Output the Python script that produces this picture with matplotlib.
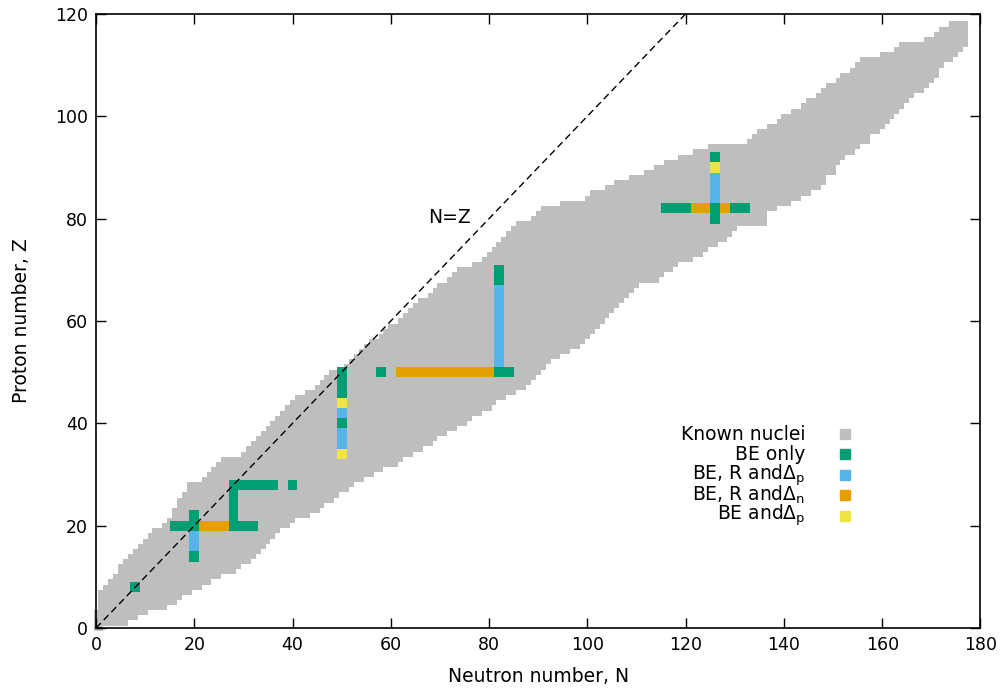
import matplotlib
matplotlib.use("Agg")
import matplotlib.pyplot as plt
import numpy as np

# known nuclei: for each Z (0..118) the lightest and heaviest N
z_known = list(range(0, 119))
n_min = [0, 0, 0, 0, 1, 1, 1, 1, 2, 3, 4, 5, 5, 6, 7, 8, 9, 10, 11, 12,
         14, 15, 16, 16, 17, 17, 18, 19, 19, 22, 23, 24, 25, 26, 30, 31, 32, 33, 34, 35,
         36, 37, 38, 39, 40, 41, 43, 45, 46, 47, 48, 51, 52, 53, 54, 55, 56, 58, 59, 60,
         62, 63, 64, 65, 66, 68, 69, 70, 72, 73, 74, 77, 79, 80, 81, 82, 83, 84, 85, 86,
         89, 90, 91, 95, 100, 101, 104, 106, 109, 112, 114, 116, 119, 122, 125, 133, 134, 135, 137, 139,
         140, 142, 144, 145, 147, 148, 149, 151, 152, 154, 155, 156, 160, 163, 164, 169, 171, 172, 174]
n_max = [1, 6, 8, 10, 14, 16, 17, 19, 21, 23, 25, 28, 29, 31, 32, 33, 34, 35, 36, 37,
         39, 40, 43, 45, 46, 48, 49, 51, 52, 54, 56, 58, 61, 62, 64, 66, 68, 69, 71, 73,
         75, 76, 78, 80, 81, 83, 85, 87, 88, 89, 90, 91, 92, 94, 96, 98, 99, 100, 101, 102,
         103, 104, 105, 106, 107, 108, 109, 110, 114, 115, 117, 118, 121, 123, 124, 126, 128, 129, 130, 136,
         136, 136, 138, 141, 143, 145, 147, 148, 148, 150, 150, 151, 152, 154, 155, 157, 157, 159, 160, 161,
         162, 163, 164, 165, 166, 168, 169, 170, 171, 171, 172, 174, 175, 176, 177, 177, 177, 177, 177]

# BE only
be_N = [8, 16, 18, 20, 28, 30, 32, 20, 20, 28, 28, 28, 28, 30, 32, 34, 36, 40,
        50, 50, 50, 50, 58, 82, 84, 82, 82, 116, 118, 120, 126, 130, 132, 126, 126]
be_Z = [8, 20, 20, 20, 20, 20, 20, 22, 14, 22, 24, 26, 28, 28, 28, 28, 28, 28,
        50, 48, 46, 40, 50, 50, 50, 70, 68, 82, 82, 82, 82, 82, 82, 92, 80]
# BE, R and Delta_p
rp_N = [20, 20, 50, 50, 50, 82, 82, 82, 82, 82, 82, 82, 82, 126, 126, 126]
rp_Z = [18, 16, 42, 38, 36, 52, 54, 56, 58, 60, 62, 64, 66, 88, 86, 84]
# BE, R and Delta_n
rn_N = [22, 24, 26, 62, 64, 66, 68, 70, 72, 74, 76, 78, 80, 122, 124, 128]
rn_Z = [20, 20, 20, 50, 50, 50, 50, 50, 50, 50, 50, 50, 50, 82, 82, 82]
# BE and Delta_p
dp_N = [50, 50, 126]
dp_Z = [44, 34, 90]

labels = ['Known nuclei', 'BE only', r'BE, R and$\Delta_\mathrm{p}$',
          r'BE, R and$\Delta_\mathrm{n}$', r'BE and$\Delta_\mathrm{p}$']
colors = ['#bebebe', '#009e73', '#56b4e9', '#e69f00', '#f0e442']

plt.rcParams['font.family'] = 'DejaVu Sans'
fig = plt.figure(figsize=(10.05, 6.91), dpi=100)
ax = fig.add_axes([0.0955, 0.091, 0.8801, 0.889])

n_min = np.array(n_min)
n_max = np.array(n_max)
ax.barh(z_known, n_max - n_min + 1, left=n_min - 0.5, height=1.0,
        color=colors[0], linewidth=0, clip_on=False, zorder=1)

groups = [(be_N, be_Z), (rp_N, rp_Z), (rn_N, rn_Z), (dp_N, dp_Z)]
for (nn, zz), c in zip(groups, colors[1:]):
    nn = np.array(nn)
    zz = np.array(zz)
    ax.bar(nn, 2.0, width=2.0, bottom=zz - 1.0, color=c,
           edgecolor='none', linewidth=0, zorder=2)

ax.plot([0, 120], [0, 120], color='black', linestyle=(0, (5, 3)), linewidth=1.0, zorder=3)
ax.text(72, 80.3, 'N=Z', fontsize=13.5, ha='center', va='center')

ax.set_xlim(0, 180)
ax.set_ylim(0, 120)
ax.set_xticks(np.arange(0, 181, 20))
ax.set_yticks(np.arange(0, 121, 20))
ax.tick_params(direction='in', length=7, width=1, top=True, right=True, labelsize=12.5, pad=6)
for s in ax.spines.values():
    s.set_linewidth(1.2)
    s.set_zorder(4)
ax.set_xlabel('Neutron number, N', fontsize=13.5, labelpad=9)
ax.set_ylabel('Proton number, Z', fontsize=13.5, labelpad=17)

# key
for i, (lab, c) in enumerate(zip(labels, colors)):
    y = 0.316 - i * 0.0332
    ax.text(0.802, y, lab, transform=ax.transAxes, ha='right', va='center', fontsize=13.5)
    ax.plot([0.847], [y], marker='s', markersize=7.5, color=c, linestyle='none',
            transform=ax.transAxes, clip_on=False)

fig.savefig('out.png', dpi=100)
